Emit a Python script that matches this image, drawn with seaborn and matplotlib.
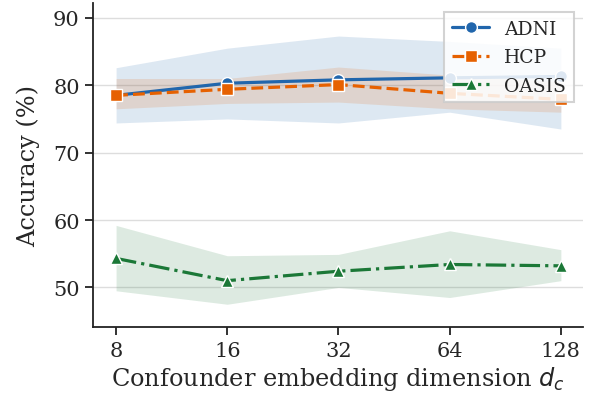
import matplotlib
matplotlib.use("Agg")
import matplotlib.pyplot as plt
import seaborn as sns
import pandas as pd
import numpy as np

dims = [8, 16, 32, 64, 128]
tick_labels = ["8", "16", "32", "64", "128"]

adni_mean = [78.5, 80.3, 80.8, 81.1, 81.3]
adni_low = [74.4, 75.0, 74.4, 76.0, 73.5]
adni_high = [82.6, 85.5, 87.3, 86.5, 85.5]

hcp_mean = [78.5, 79.4, 80.1, 78.8, 77.9]
hcp_low = [76.5, 77.3, 77.5, 76.5, 76.0]
hcp_high = [81.0, 81.0, 82.7, 81.5, 80.5]

oasis_mean = [54.3, 51.0, 52.4, 53.4, 53.2]
oasis_low = [49.5, 47.5, 50.0, 48.5, 51.0]
oasis_high = [59.2, 54.7, 54.9, 58.4, 55.6]

datasets = ["ADNI", "HCP", "OASIS"]
colors = {"ADNI": "#2166ac", "HCP": "#e66101", "OASIS": "#1b7837"}
markers = {"ADNI": "o", "HCP": "s", "OASIS": "^"}
styles = {"ADNI": "-", "HCP": "--", "OASIS": "-."}

means = {"ADNI": adni_mean, "HCP": hcp_mean, "OASIS": oasis_mean}
lows = {"ADNI": adni_low, "HCP": hcp_low, "OASIS": oasis_low}
highs = {"ADNI": adni_high, "HCP": hcp_high, "OASIS": oasis_high}

rows = []
for d in datasets:
    for x, m in zip(dims, means[d]):
        rows.append({"dim": x, "acc": m, "Dataset": d})
df = pd.DataFrame(rows)

sns.set_theme(style="ticks")
plt.rcParams["font.family"] = ["DejaVu Serif"]
plt.rcParams["mathtext.fontset"] = "dejavusans"

fig = plt.figure(figsize=(5.89, 4.02), dpi=100)
ax = fig.add_axes([0.158, 0.183, 0.832, 0.807])

for d in datasets:
    ax.fill_between(dims, lows[d], highs[d], color=colors[d], alpha=0.15, linewidth=0, zorder=1)

for d in datasets:
    sub = df[df["Dataset"] == d]
    sns.lineplot(data=sub, x="dim", y="acc", ax=ax, color=colors[d],
                 marker=markers[d], linestyle=styles[d], linewidth=2.3,
                 markersize=8.5, markeredgecolor="white", markeredgewidth=1.0,
                 label=d, zorder=3, errorbar=None)

ax.set_xscale("log", base=2)
ax.set_xticks(dims)
ax.set_xticklabels(tick_labels)
ax.minorticks_off()
ax.set_xlim(8 / 2 ** 0.207, 128 * 2 ** 0.2)
ax.set_ylim(44.06, 92.2)
ax.set_yticks([50, 60, 70, 80, 90])
ax.yaxis.grid(True, color="#dddddd", linewidth=1.0)
ax.set_axisbelow(True)
sns.despine(ax=ax)
for s in ["left", "bottom"]:
    ax.spines[s].set_linewidth(1.3)
    ax.spines[s].set_color("#222222")
ax.tick_params(axis="both", labelsize=15, length=6, width=1.3, color="#222222")

ax.set_xlabel("Confounder embedding dimension $d_c$", fontsize=17.3, labelpad=3)
ax.set_ylabel("Accuracy (%)", fontsize=17.3, labelpad=9)

leg = ax.legend(loc="upper right", fontsize=13.5, frameon=True, fancybox=False,
                framealpha=0.85, edgecolor="#cccccc", borderaxespad=0.5,
                handlelength=2.0, labelspacing=0.55)
leg.get_frame().set_linewidth(1.5)

fig.savefig("out.png", dpi=100)
